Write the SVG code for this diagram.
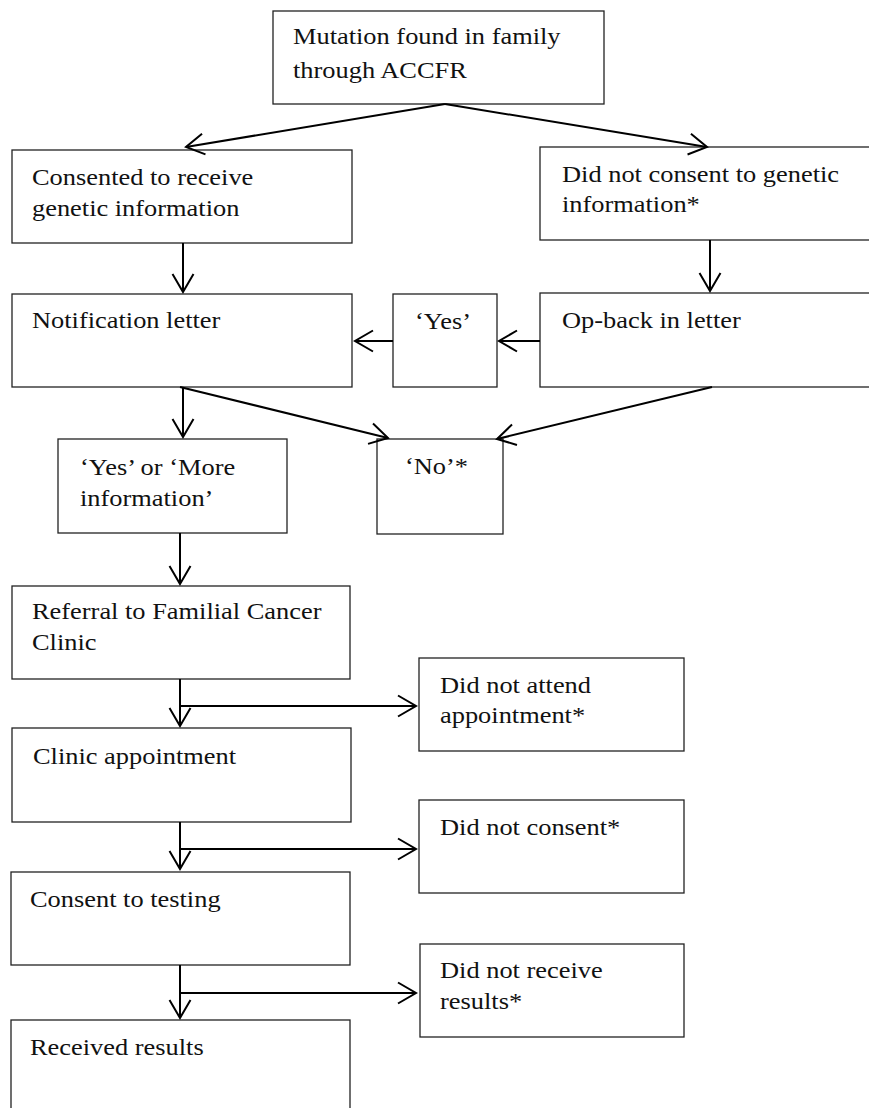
<svg xmlns="http://www.w3.org/2000/svg" width="869" height="1108" viewBox="0 0 869 1108">
<style>
.box{fill:#fff;stroke:#222;stroke-width:1.3}
.t{font-family:"Liberation Serif","Times New Roman",serif;font-size:24px;fill:#111}
.c{fill:none;stroke:#000;stroke-width:2}
</style>
<defs>
<marker id="arr" markerUnits="userSpaceOnUse" markerWidth="40" markerHeight="40" refX="0" refY="0" orient="auto" overflow="visible">
<path d="M-18,-10.5 L0,0 L-18,10.5" fill="none" stroke="#000" stroke-width="2"/>
</marker>
</defs>
<rect width="869" height="1108" fill="#fff"/>
<g id="n-top"><rect class="box" x="273" y="11" width="331" height="93"/><text class="t" transform="translate(293,44) scale(1.1,1)"><tspan x="0">Mutation found in family</tspan><tspan x="0" dy="34">through ACCFR</tspan></text></g>
<g id="n-consented"><rect class="box" x="12" y="150" width="340" height="93"/><text class="t" transform="translate(32,185) scale(1.1,1)"><tspan x="0">Consented to receive</tspan><tspan x="0" dy="31">genetic information</tspan></text></g>
<g id="n-didnot"><rect class="box" x="540" y="147" width="340" height="93"/><text class="t" transform="translate(562,182) scale(1.1,1)"><tspan x="0">Did not consent to genetic</tspan><tspan x="0" dy="30">information*</tspan></text></g>
<g id="n-notif"><rect class="box" x="12" y="294" width="340" height="93"/><text class="t" transform="translate(32,328) scale(1.1,1)">Notification letter</text></g>
<g id="n-yes"><rect class="box" x="393" y="294" width="104" height="93"/><text class="t" transform="translate(415,329) scale(1.1,1)">‘Yes’</text></g>
<g id="n-opback"><rect class="box" x="540" y="293" width="340" height="94"/><text class="t" transform="translate(562,328) scale(1.1,1)">Op-back in letter</text></g>
<g id="n-yesmore"><rect class="box" x="58" y="439" width="229" height="94"/><text class="t" transform="translate(80,475) scale(1.1,1)"><tspan x="0">‘Yes’ or ‘More</tspan><tspan x="0" dy="31">information’</tspan></text></g>
<g id="n-no"><rect class="box" x="377" y="439" width="126" height="95"/><text class="t" transform="translate(405,474) scale(1.1,1)">‘No’*</text></g>
<g id="n-referral"><rect class="box" x="12" y="586" width="338" height="93"/><text class="t" transform="translate(32,619) scale(1.1,1)"><tspan x="0">Referral to Familial Cancer</tspan><tspan x="0" dy="31">Clinic</tspan></text></g>
<g id="n-dna"><rect class="box" x="419" y="658" width="265" height="93"/><text class="t" transform="translate(440,693) scale(1.1,1)"><tspan x="0">Did not attend</tspan><tspan x="0" dy="30">appointment*</tspan></text></g>
<g id="n-clinic"><rect class="box" x="12" y="728" width="339" height="94"/><text class="t" transform="translate(33,764) scale(1.1,1)">Clinic appointment</text></g>
<g id="n-dnc"><rect class="box" x="419" y="800" width="265" height="93"/><text class="t" transform="translate(440,835) scale(1.1,1)">Did not consent*</text></g>
<g id="n-consent"><rect class="box" x="11" y="872" width="339" height="93"/><text class="t" transform="translate(30,907) scale(1.1,1)">Consent to testing</text></g>
<g id="n-dnr"><rect class="box" x="420" y="944" width="264" height="93"/><text class="t" transform="translate(440,978) scale(1.1,1)"><tspan x="0">Did not receive</tspan><tspan x="0" dy="31">results*</tspan></text></g>
<g id="n-received"><rect class="box" x="11" y="1020" width="339" height="110"/><text class="t" transform="translate(30,1055) scale(1.1,1)">Received results</text></g>
<g id="connectors">
<line class="c" x1="445" y1="104" x2="186" y2="147" marker-end="url(#arr)"/>
<line class="c" x1="445" y1="104" x2="707" y2="147" marker-end="url(#arr)"/>
<line class="c" x1="183" y1="243" x2="183" y2="292" marker-end="url(#arr)"/>
<line class="c" x1="710" y1="240" x2="710" y2="291" marker-end="url(#arr)"/>
<line class="c" x1="540" y1="341" x2="499" y2="341" marker-end="url(#arr)"/>
<line class="c" x1="393" y1="341" x2="355" y2="341" marker-end="url(#arr)"/>
<line class="c" x1="183" y1="387" x2="183" y2="437" marker-end="url(#arr)"/>
<line class="c" x1="180" y1="387" x2="388" y2="438" marker-end="url(#arr)"/>
<line class="c" x1="712" y1="387" x2="497" y2="439" marker-end="url(#arr)"/>
<line class="c" x1="180" y1="533" x2="180" y2="584" marker-end="url(#arr)"/>
<line class="c" x1="180" y1="679" x2="180" y2="726" marker-end="url(#arr)"/>
<line class="c" x1="180" y1="706" x2="416" y2="706" marker-end="url(#arr)"/>
<line class="c" x1="180" y1="822" x2="180" y2="869" marker-end="url(#arr)"/>
<line class="c" x1="180" y1="849" x2="416" y2="849" marker-end="url(#arr)"/>
<line class="c" x1="180" y1="965" x2="180" y2="1018" marker-end="url(#arr)"/>
<line class="c" x1="180" y1="993" x2="416" y2="993" marker-end="url(#arr)"/>
</g>
</svg>
